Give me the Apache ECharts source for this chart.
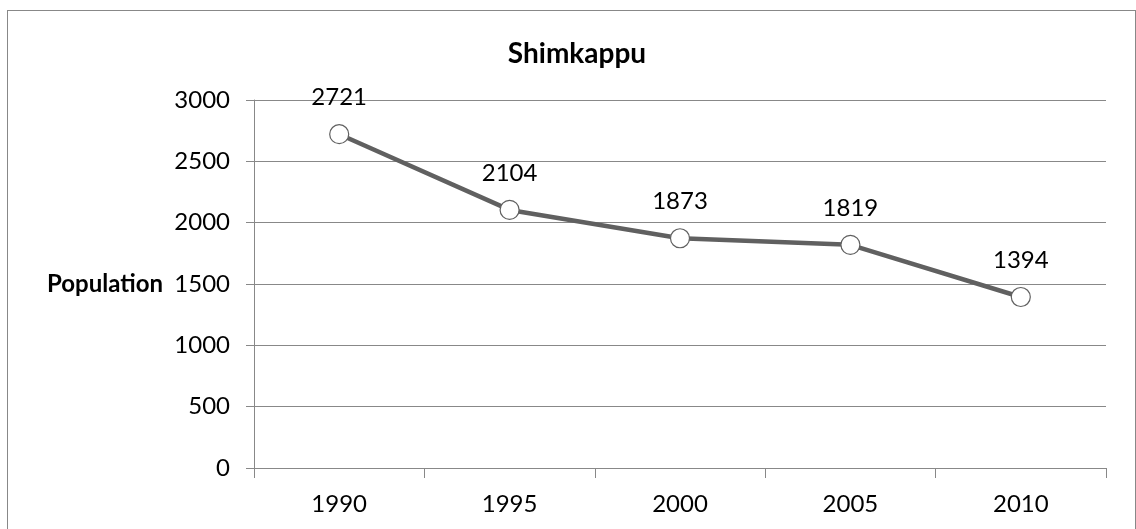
<!DOCTYPE html>
<html>
<head>
<meta charset="utf-8">
<script src="https://cdn.jsdelivr.net/npm/echarts@6/dist/echarts.min.js"></script>
<style>
  html, body { margin: 0; padding: 0; background: #fff; }
  #main { width: 1136px; height: 529px; }
  .frame { position: absolute; left: 7px; top: 10px; width: 1129px; height: 530px; border: 1px solid #888; box-sizing: border-box; pointer-events: none; }
</style>
</head>
<body>
<div id="main"></div>
<div class="frame"></div>
<script>
var years = ['1990', '1995', '2000', '2005', '2010'];
var population = [2721, 2104, 1873, 1819, 1394];
var yTicks = { min: 0, max: 3000, interval: 500 };

(function(){
  var chartDom = document.getElementById('main');
  var myChart = echarts.init(chartDom);
  var font = 'Lato, "Open Sans", sans-serif';
  var option = {
    animation: false,
    title: {
      text: 'Shimkappu',
      left: 572,
      textAlign: 'center',
      top: 35,
      textStyle: { fontFamily: font, fontSize: 28, fontWeight: 'bold', color: '#000' }
    },
    grid: { left: 254, right: 30, top: 100, bottom: 61 },
    xAxis: {
      type: 'category',
      data: years,
      boundaryGap: true,
      axisLine: { lineStyle: { color: '#888', width: 1 } },
      axisTick: { show: true, length: 10, lineStyle: { color: '#888' } },
      axisLabel: { color: '#000', fontFamily: font, fontSize: 24, margin: 24 }
    },
    yAxis: {
      type: 'value',
      min: yTicks.min,
      max: yTicks.max,
      interval: yTicks.interval,
      name: 'Population',
      nameLocation: 'middle',
      nameRotate: 0,
      nameGap: 91,
      nameTextStyle: { fontFamily: font, fontSize: 24, fontWeight: 'bold', color: '#000', align: 'right' },
      axisLine: { show: true, lineStyle: { color: '#888', width: 1 } },
      axisTick: { show: true, length: 8, lineStyle: { color: '#888' } },
      axisLabel: {
        color: '#000', fontFamily: font, fontSize: 24, margin: 24,
        formatter: function (v) { return String(v); }
      },
      splitLine: { show: true, lineStyle: { color: '#888', width: 1 } }
    },
    series: [
      {
        type: 'line',
        data: population,
        symbol: 'circle',
        symbolSize: 19,
        lineStyle: { color: '#606060', width: 4.5 },
        itemStyle: { color: '#fff', borderColor: '#606060', borderWidth: 1.2 },
        label: {
          show: true,
          position: 'top',
          distance: 15,
          color: '#000',
          fontFamily: font,
          fontSize: 24
        }
      }
    ]
  };
  option && myChart.setOption(option);
})();
</script>
</body>
</html>
